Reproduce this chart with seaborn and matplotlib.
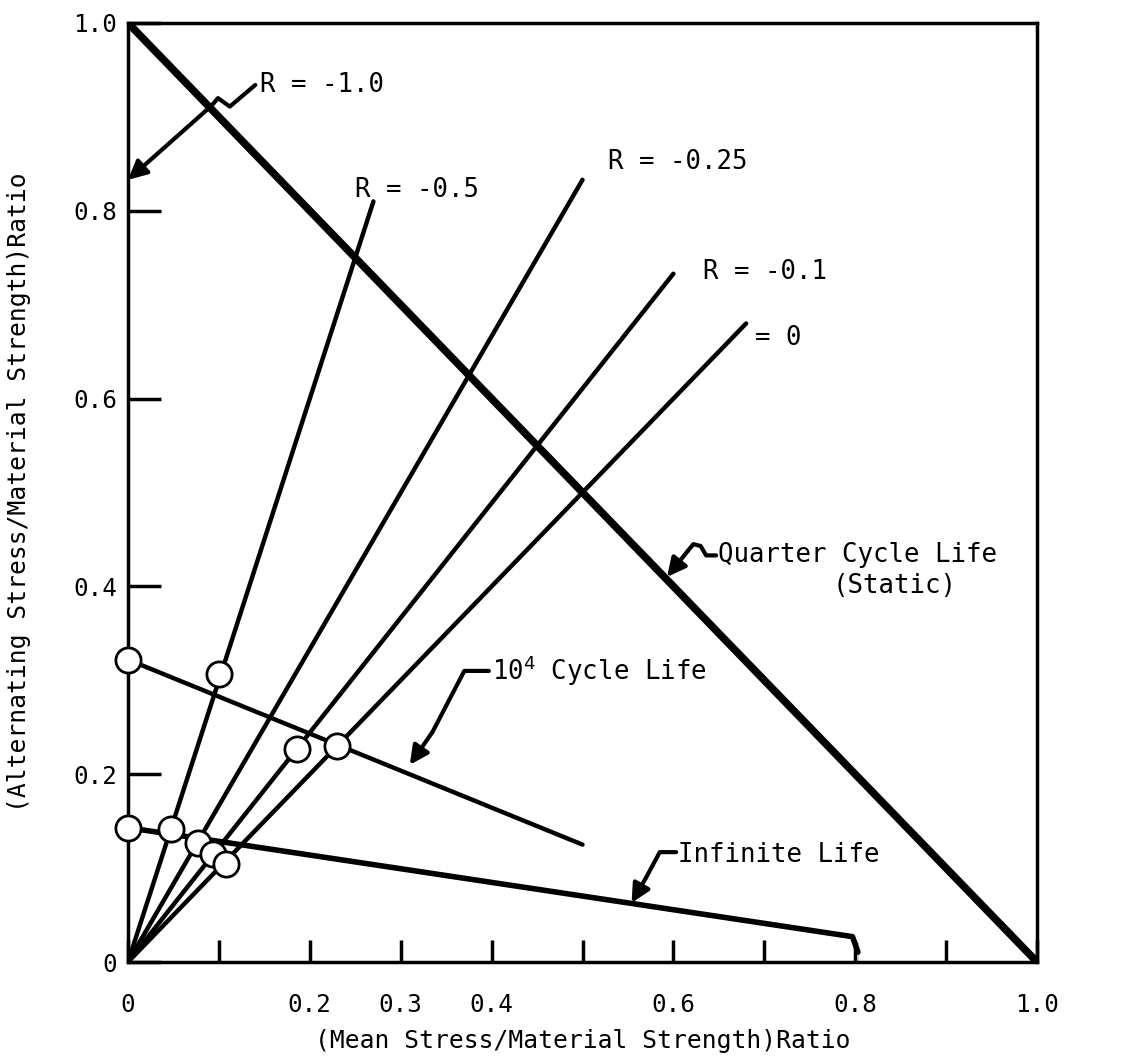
import numpy as np
import pandas as pd
import matplotlib.pyplot as plt
import seaborn as sns

# ray lines through the origin, one per stress ratio R
r_names = ["R = -0.5", "R = -0.25", "R = -0.1", "= 0"]
r_end_x = [0.27, 0.50, 0.60, 0.68]
r_end_y = [0.81, 0.833, 0.733, 0.68]

# constant life lines
static_x = [0.0, 1.0]
static_y = [1.0, 0.0]
cyc4_x = [0.0, 0.50]
cyc4_y = [0.322, 0.125]
inf_x = [0.0, 0.797, 0.803, 0.803]
inf_y = [0.143, 0.027, 0.021, 0.0]

# test points (open circles)
pts_x = [0.0, 0.10, 0.186, 0.23, 0.0, 0.047, 0.077, 0.093, 0.108]
pts_y = [0.322, 0.307, 0.227, 0.23, 0.143, 0.142, 0.127, 0.115, 0.104]

xtick_vals = [0.0, 0.1, 0.2, 0.3, 0.4, 0.5, 0.6, 0.7, 0.8, 0.9, 1.0]
xtick_text = ["0", "", "0.2", "0.3", "0.4", "", "0.6", "", "0.8", "", "1.0"]
ytick_vals = [0.0, 0.2, 0.4, 0.6, 0.8, 1.0]
ytick_text = ["0", "0.2", "0.4", "0.6", "0.8", "1.0"]

sns.set_style("white")
plt.rcParams['font.family'] = ['DejaVu Sans Mono']
plt.rcParams['text.color'] = 'black'
plt.rcParams['axes.labelcolor'] = 'black'
plt.rcParams['xtick.color'] = 'black'
plt.rcParams['ytick.color'] = 'black'

fig = plt.figure(figsize=(11.24, 10.6), dpi=100)
ax = fig.add_axes([128 / 1124, 98 / 1060, 909 / 1124, 939 / 1060])

rays = pd.DataFrame({
    "x": sum([[0.0, ex] for ex in r_end_x], []),
    "y": sum([[0.0, ey] for ey in r_end_y], []),
    "R": sum([[n, n] for n in r_names], []),
})
sns.lineplot(data=rays, x="x", y="y", units="R", estimator=None, sort=False,
             color="black", lw=3.2, ax=ax, solid_capstyle="round")

sns.lineplot(x=static_x, y=static_y, sort=False, color="black", lw=5.5, ax=ax)
sns.lineplot(x=cyc4_x, y=cyc4_y, sort=False, color="black", lw=3.2, ax=ax,
             solid_capstyle="round")
sns.lineplot(x=inf_x, y=inf_y, sort=False, color="black", lw=4, ax=ax,
             clip_on=False)

sns.scatterplot(x=pts_x, y=pts_y, s=330, facecolor="white", edgecolor="black",
                linewidth=2, ax=ax, zorder=5, clip_on=False)

fs = 18.5
arrow_kw = dict(arrowstyle="-|>", lw=3, color="black", mutation_scale=28,
                shrinkA=0, shrinkB=0)

# labels at ray ends
label_pos = [(0.25, 0.822), (0.528, 0.852), (0.633, 0.735), (0.69, 0.665)]
for name, (lx, ly) in zip(r_names, label_pos):
    ax.text(lx, ly, name, ha="left", va="center", fontsize=fs)

# R = -1.0 label with zigzag arrow to the y axis
ax.text(0.145, 0.934, "R = -1.0", ha="left", va="center", fontsize=fs)
ax.plot([0.14, 0.112, 0.099, 0.092], [0.934, 0.911, 0.92, 0.912],
        color="black", lw=3)
ax.annotate("", xy=(0.0, 0.833), xytext=(0.092, 0.912), arrowprops=arrow_kw)

# quarter cycle life label
ax.text(0.649, 0.433, "Quarter Cycle Life", ha="left", va="center",
        fontsize=fs)
ax.text(0.775, 0.400, "(Static)", ha="left", va="center", fontsize=fs)
ax.plot([0.647, 0.636, 0.630, 0.622, 0.616], [0.433, 0.433, 0.443, 0.445,
                                              0.438],
        color="black", lw=3)
ax.annotate("", xy=(0.593, 0.41), xytext=(0.616, 0.438), arrowprops=arrow_kw)

# 10^4 cycle life label
ax.text(0.40, 0.31, "10$^4$ Cycle Life", ha="left", va="center", fontsize=fs)
ax.plot([0.397, 0.37, 0.335], [0.31, 0.31, 0.245], color="black", lw=3)
ax.annotate("", xy=(0.31, 0.21), xytext=(0.335, 0.245), arrowprops=arrow_kw)

# infinite life label
ax.text(0.605, 0.114, "Infinite Life", ha="left", va="center", fontsize=fs)
ax.plot([0.603, 0.585, 0.57], [0.117, 0.117, 0.09], color="black", lw=3)
ax.annotate("", xy=(0.554, 0.063), xytext=(0.57, 0.09), arrowprops=arrow_kw)

ax.set_xlim(0, 1)
ax.set_ylim(0, 1)
ax.set_xticks(xtick_vals)
ax.set_xticklabels(xtick_text)
ax.set_yticks(ytick_vals)
ax.set_yticklabels(ytick_text)
ax.tick_params(axis="x", bottom=True, direction="in", length=16, width=2.5,
               pad=22, labelsize=17.5)
ax.tick_params(axis="y", left=True, direction="in", length=24, width=2.5,
               pad=8, labelsize=17.5)
for sp in ax.spines.values():
    sp.set_linewidth(2.5)
    sp.set_color("black")

ax.set_xlabel("(Mean Stress/Material Strength)Ratio", fontsize=17.7,
              labelpad=9)
ax.set_ylabel("(Alternating Stress/Material Strength)Ratio", fontsize=17.7,
              labelpad=30)

fig.savefig("out.png", dpi=100)
